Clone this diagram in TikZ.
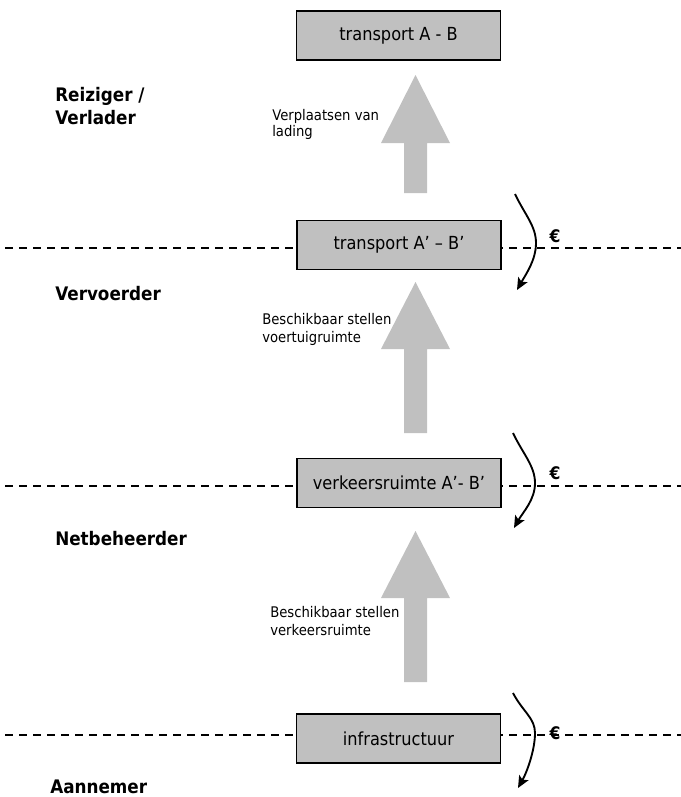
\documentclass[tikz,border=0pt]{standalone}
\usepackage{fontspec}
\setmainfont{DejaVu Sans}[FakeStretch=0.9]
\usetikzlibrary{arrows.meta}
\definecolor{boxgray}{HTML}{C0C0C0}
\definecolor{arrowgray}{HTML}{C0C0C0}
\begin{document}
\begin{tikzpicture}[x=0.75pt,y=-0.75pt,
  stage/.style={draw=black, line width=1.4pt, fill=boxgray, minimum width=153pt,
    minimum height=36.75pt, inner sep=0pt, font=\fontsize{13.5}{16}\selectfont},
  role/.style={anchor=base west, inner sep=0pt, align=left,
    font=\fontsize{14}{17}\selectfont\bfseries},
  note/.style={anchor=base west, inner sep=0pt, align=left,
    font=\fontsize{11}{13.2}\selectfont},
  euro/.style={inner sep=0pt, font=\fontsize{13}{15}\selectfont\bfseries},
  levelline/.style={line width=1.3pt, dash pattern=on 6pt off 4.5pt},
  bigarrow/.style={fill=arrowgray, draw=none},
  money/.style={line width=1.4pt, -{Stealth[length=9pt,width=8pt,inset=2pt]}}
]
\useasboundingbox (0,0) rectangle (681,797);

% level lines
\coordinate (l1a) at (5,248);   \coordinate (l1b) at (681,248);
\coordinate (l2a) at (5,486);   \coordinate (l2b) at (681,486);
\coordinate (l3a) at (5,735);   \coordinate (l3b) at (681,735);
\draw[levelline] (l1a) -- (l1b);
\draw[levelline] (l2a) -- (l2b);
\draw[levelline] (l3a) -- (l3b);

% boxes
\node[stage] (t1) at (398.5,35.5) {transport A - B};
\node[stage] (t2) at (399,245) {transport A’ – B’};
\node[stage] (t3) at (399,483) {verkeersruimte A’- B’};
\node[stage] (t4) at (398.5,738.5) {infrastructuur};

% big upward arrows
\fill[bigarrow] (404,193) -- (404,143) -- (381,143) -- (415.5,75) -- (450,143) -- (427,143) -- (427,193) -- cycle;
\fill[bigarrow] (404,433) -- (404,349) -- (381,349) -- (415.5,282) -- (450,349) -- (427,349) -- (427,433) -- cycle;
\fill[bigarrow] (404,682) -- (404,598) -- (381,598) -- (415.5,531) -- (450,598) -- (427,598) -- (427,682) -- cycle;

% arrow labels (anchored at the baseline of their last line)
\node[note, font=\fontsize{11}{11.5}\selectfont] (n1) at (272,136) {Verplaatsen van\\lading};
\node[note] (n2) at (262,342) {Beschikbaar stellen\\voertuigruimte};
\node[note] (n3) at (270,635) {Beschikbaar stellen\\verkeersruimte};

% role labels
\node[role] (r1) at (55,124) {Reiziger /\\Verlader};
\node[role] (r2) at (55,300.7) {Vervoerder};
\node[role] (r3) at (55,545) {Netbeheerder};
\node[role] (r4) at (50,793) {Aannemer};

% money flows
\coordinate (s1) at (515,194); \coordinate (m1) at (536,243); \coordinate (e1) at (517,290);
\coordinate (s2) at (513,433); \coordinate (m2) at (535,483); \coordinate (e2) at (514,528);
\coordinate (s3) at (513,693); \coordinate (m3) at (535,733); \coordinate (e3) at (518,788);
\draw[money] (s1) .. controls +(10,21) and +(0,-17) .. (m1) .. controls +(0,17) and +(9,-16) .. (e1);
\draw[money] (s2) .. controls +(10,21) and +(0,-17) .. (m2) .. controls +(0,17) and +(9,-16) .. (e2);
\draw[money] (s3) .. controls +(10,19) and +(0,-15) .. (m3) .. controls +(0,17) and +(9,-16) .. (e3);

\node[euro] (eu1) at (555,236) {€};
\node[euro] (eu2) at (555,473) {€};
\node[euro] (eu3) at (555,733) {€};
\end{tikzpicture}
\end{document}
